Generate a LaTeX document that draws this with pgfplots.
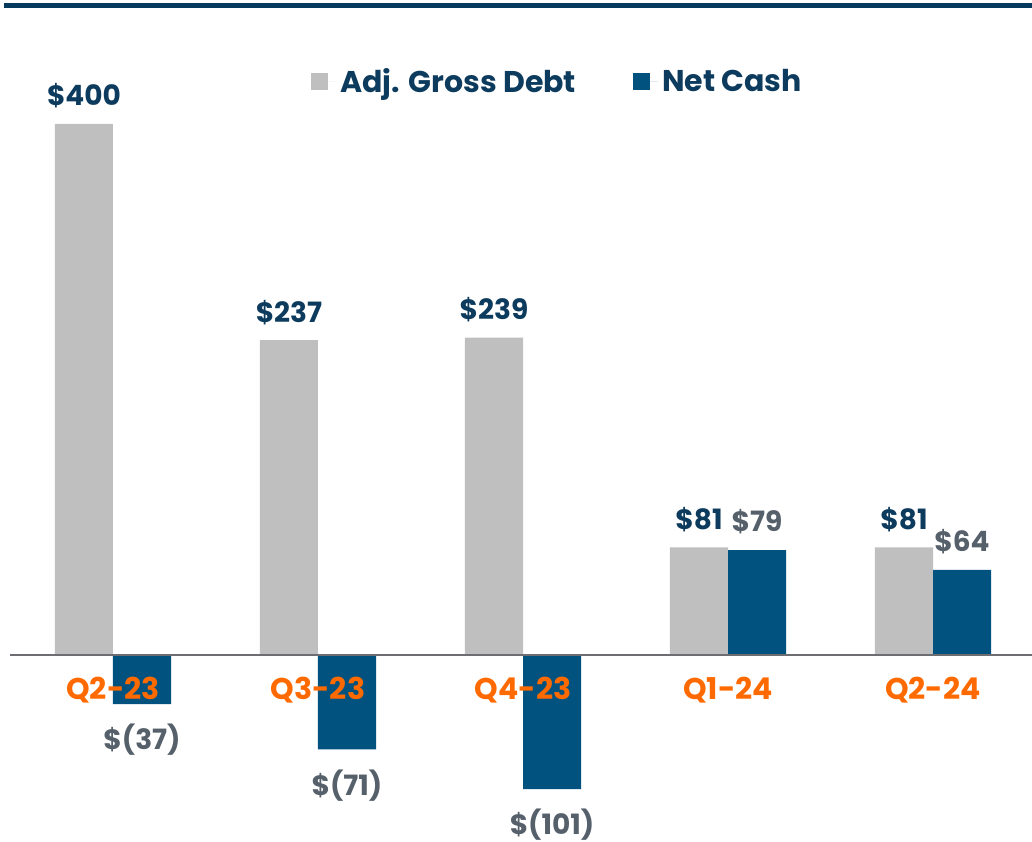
\documentclass[border=0pt]{standalone}
\usepackage{fontspec}
\setmainfont{Poppins}
\usepackage{pgfplots}
\pgfplotsset{compat=1.18}
\definecolor{grayb}{HTML}{BFBFBF}
\definecolor{navyb}{HTML}{02527F}
\definecolor{navyt}{HTML}{0D3B5E}
\definecolor{grayt}{HTML}{56606B}
\definecolor{orangeq}{HTML}{FF6A00}
\definecolor{topline}{HTML}{063A5C}
\definecolor{axisgray}{HTML}{6D6E71}

\begin{document}
\begin{tikzpicture}
\begin{axis}[
  scale only axis, width=511pt, height=421pt,
  xmin=-0.5024, xmax=4.4829, ymin=-140.8, ymax=493.2,
  axis x line=middle, axis y line=none,
  x axis line style={draw=axisgray, line width=1pt, -},
  hide obscured x ticks=false,
  axis on top, clip=false,
  ybar, bar width=0.283,
  xtick={0,1,2,3,4}, major tick length=0pt,
  xticklabels={Q2-23,Q3-23,Q4-23,Q1-24,Q2-24},
  xticklabel style={font=\bfseries\fontsize{15}{18}\selectfont, text=orangeq,
    inner sep=0pt, anchor=north, yshift=-11pt},
  point meta=explicit symbolic,
  nodes near coords,
  visualization depends on={y \as \rawy},
  every node near coord/.append style={font=\bfseries\fontsize{14}{17}\selectfont,
    inner sep=0pt, anchor=center, yshift={\rawy<0 ? -18 : 14}},
  legend style={draw=none, fill=none, inner sep=0pt, at={(rel axis cs:0.2945,0.9026)}, anchor=west,
    legend columns=2, font=\bfseries\fontsize{15}{18}\selectfont, text=navyt,
    /tikz/every even column/.append style={column sep=26.5pt}},
  legend image code/.code={\path (0pt,0pt) -- (12.5pt,0pt);
    \fill[#1] (0pt,-4.25pt) rectangle (8.5pt,4.25pt);},
]
\addplot[fill=grayb, draw=none, bar shift=-0.1415,
  every node near coord/.append style={text=navyt}]
  coordinates {(0,400) [\$400] (1,237) [\$237] (2,239) [\$239] (3,81) [\$81] (4,81) [\$81]};
\addplot[fill=navyb, draw=none, bar shift=0.1415,
  every node near coord/.append style={text=grayt}]
  coordinates {(0,-37) [\$(37)] (1,-71) [\$(71)] (2,-101) [\$(101)] (3,79) [\$79] (4,64) [\$64]};
\legend{Adj. Gross Debt, Net Cash}
\draw[topline, line width=2.6pt] ([xshift=-3pt]rel axis cs:0,0.993) -- (rel axis cs:1,0.993);
\coordinate (bl) at (rel axis cs:0,0);
\coordinate (tr) at (rel axis cs:1,1);
\end{axis}
\pgfresetboundingbox
\path[use as bounding box] ([xshift=-5pt]bl) rectangle (tr);
\end{tikzpicture}
\end{document}
